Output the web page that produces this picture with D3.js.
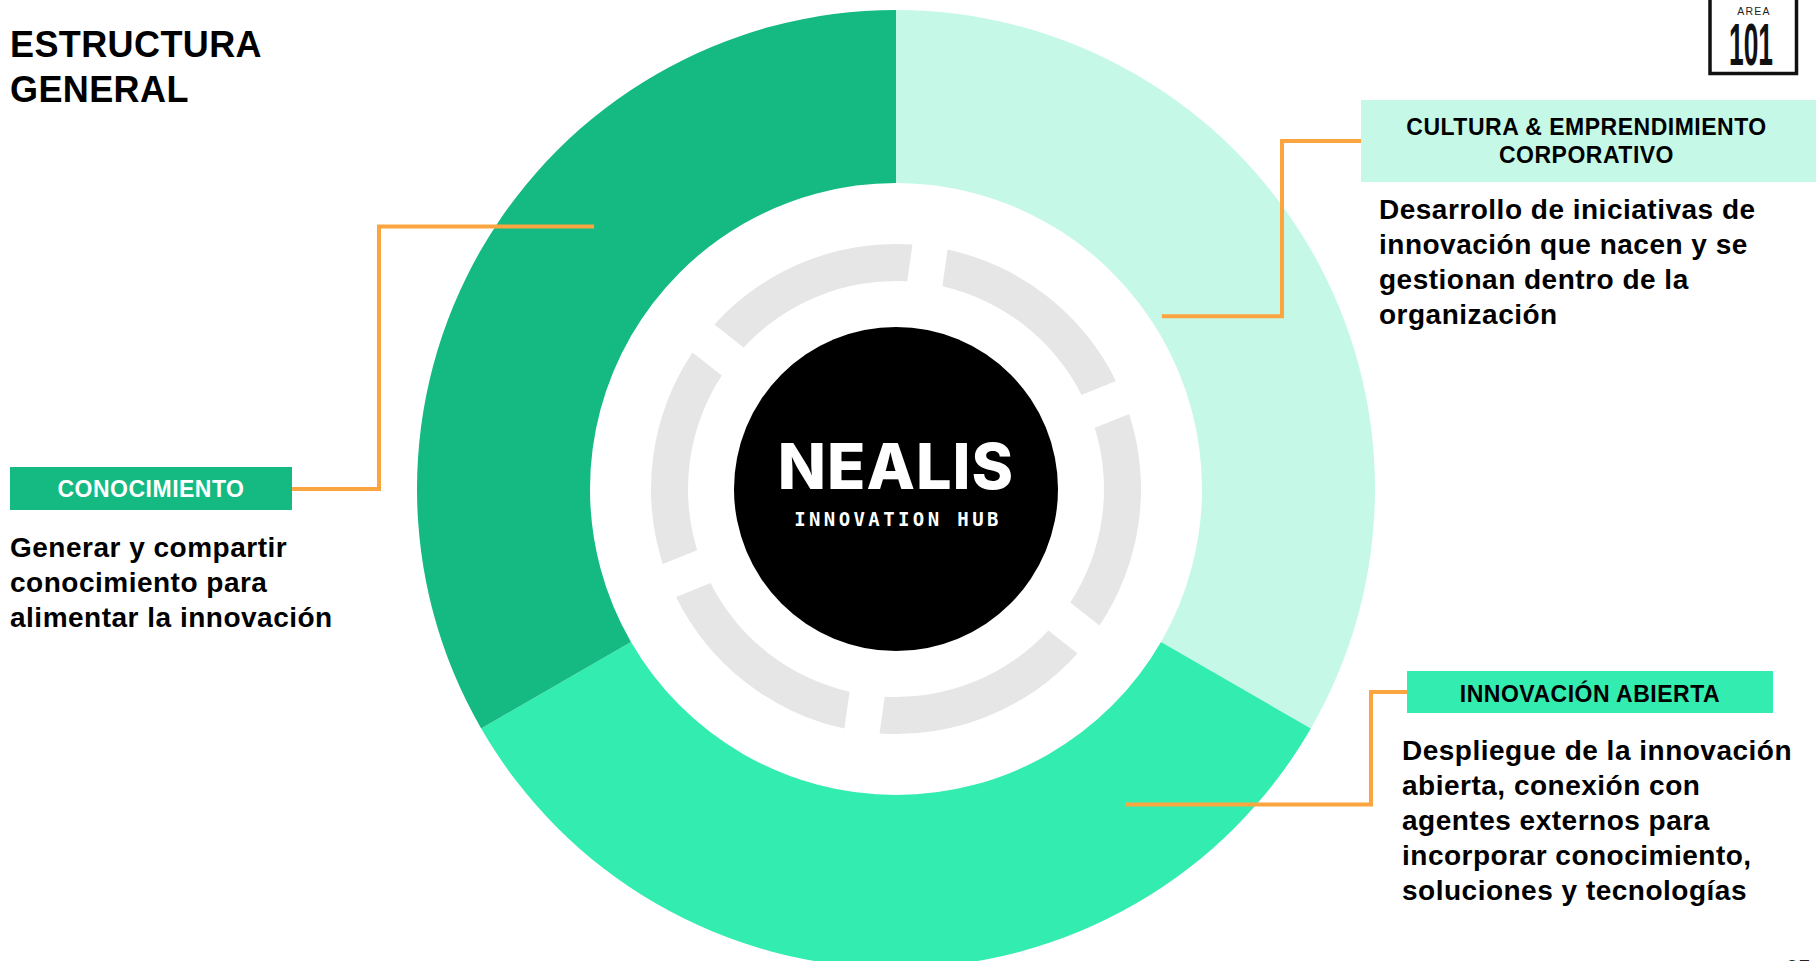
<!DOCTYPE html>
<html>
<head>
<meta charset="utf-8">
<script src="https://cdn.jsdelivr.net/npm/d3@7"></script>
<style>
  html, body { margin: 0; padding: 0; background: #fff; overflow: hidden; }
  text { font-family: "Liberation Sans", Arial, sans-serif; }
</style>
</head>
<body>
<svg width="1816" height="961"></svg>
<script>
// three pillars of the hub, clockwise from 12 o'clock
var areas = ["CULTURA & EMPRENDIMIENTO CORPORATIVO", "INNOVACIÓN ABIERTA", "CONOCIMIENTO"];
var weights = [1, 1, 1];
var areaColors = ["#c5f8e7", "#33ecb0", "#14ba82"];
var labelLines = [
    ["CULTURA & EMPRENDIMIENTO", "CORPORATIVO"],
    ["INNOVACIÓN ABIERTA"],
    ["CONOCIMIENTO"]
];
var descriptions = [
    ["Desarrollo de iniciativas de", "innovación que nacen y se", "gestionan dentro de la", "organización"],
    ["Despliegue de la innovación", "abierta, conexión con", "agentes externos para", "incorporar conocimiento,", "soluciones y tecnologías"],
    ["Generar y compartir", "conocimiento para", "alimentar la innovación"]
];
var ringSegments = [1, 1, 1, 1, 1, 1];

var svg = d3.select("svg"),
    cx = 896, cy = 489,
    outerR = 479, innerR = 306;

var rad = function(deg) { return deg * Math.PI / 180; };

var data = areas.map(function(a, i) { return {name: a, value: weights[i], color: areaColors[i]}; });

var pie = d3.pie().sort(null).value(function(d) { return d.value; });
var arc = d3.arc().innerRadius(innerR).outerRadius(outerR);

var g = svg.append("g").attr("transform", "translate(" + cx + "," + cy + ")");

g.selectAll("path.slice")
    .data(pie(data))
    .enter().append("path")
    .attr("class", "slice")
    .attr("d", arc)
    .attr("fill", function(d) { return d.data.color; });

// dashed grey ring
var ringPie = d3.pie().sort(null).startAngle(rad(8)).endAngle(rad(368)).padAngle(rad(9));
var ringArc = d3.arc().innerRadius(208).outerRadius(245).padRadius(226);
g.selectAll("path.seg")
    .data(ringPie(ringSegments))
    .enter().append("path")
    .attr("class", "seg")
    .attr("d", ringArc)
    .attr("fill", "#e6e6e6");

g.append("circle").attr("r", 162).attr("fill", "#000");

g.append("text")
    .attr("y", 0)
    .attr("text-anchor", "middle")
    .style("font-family", "Inter, 'Open Sans', sans-serif")
    .style("font-weight", 800)
    .style("font-size", "63px")
    .style("letter-spacing", "1px")
    .attr("fill", "#fff")
    .text("NEALIS");

g.append("text")
    .attr("y", 37)
    .attr("x", 2)
    .attr("text-anchor", "middle")
    .style("font-family", "'DejaVu Sans Mono', monospace")
    .style("font-weight", "bold")
    .style("font-size", "19px")
    .style("letter-spacing", "3.4px")
    .attr("fill", "#fff")
    .text("INNOVATION HUB");

// title
svg.append("text")
    .attr("x", 10)
    .style("font-weight", "bold")
    .style("font-size", "36px")
    .style("letter-spacing", "0.4px")
    .selectAll("tspan")
    .data(["ESTRUCTURA", "GENERAL"])
    .enter().append("tspan")
    .attr("x", 10)
    .attr("y", function(d, i) { return 57 + i * 45; })
    .text(function(d) { return d; });

// label layout: box, description, connector
var layout = [
    {box: [1361, 100, 455, 82], textColor: "#000", textY: 135, lineH: 28,
     desc: [1379, 219], attach: [1361, 141], elbowX: 1282, end: [57, 317]},
    {box: [1407, 671, 366, 42], textColor: "#000", textY: 702, lineH: 28,
     desc: [1402, 760], attach: [1407, 692], elbowX: 1371, end: [144, 390]},
    {box: [10, 467, 282, 43], textColor: "#fff", textY: 497, lineH: 28,
     desc: [10, 557], attach: [292, 489], elbowX: 379, end: [311, 400]}
];

var line = d3.line();

data.forEach(function(d, i) {
    var L = layout[i];
    var p = d3.pointRadial(rad(L.end[0]), L.end[1]);
    var endPt = [cx + p[0], cy + p[1]];
    svg.append("path")
        .attr("d", line([L.attach, [L.elbowX, L.attach[1]], [L.elbowX, endPt[1]], endPt]))
        .attr("fill", "none")
        .attr("stroke", "#fba540")
        .attr("stroke-width", 4)
        .attr("stroke-linejoin", "miter");

    svg.append("rect")
        .attr("x", L.box[0]).attr("y", L.box[1])
        .attr("width", L.box[2]).attr("height", L.box[3])
        .attr("fill", d.color);

    svg.append("text")
        .attr("text-anchor", "middle")
        .style("font-weight", "bold")
        .style("font-size", "23px")
        .style("letter-spacing", "0.5px")
        .attr("fill", L.textColor)
        .selectAll("tspan")
        .data(labelLines[i])
        .enter().append("tspan")
        .attr("x", L.box[0] + L.box[2] / 2 + (i === 0 ? -2 : 0))
        .attr("y", function(t, j) { return L.textY + j * L.lineH; })
        .text(function(t) { return t; });

    svg.append("text")
        .style("font-weight", "bold")
        .style("font-size", "28px")
        .style("letter-spacing", "0.5px")
        .attr("fill", "#000")
        .selectAll("tspan")
        .data(descriptions[i])
        .enter().append("tspan")
        .attr("x", L.desc[0])
        .attr("y", function(t, j) { return L.desc[1] + j * 35; })
        .text(function(t) { return t; });
});

// logo top right
var logo = svg.append("g");
logo.append("rect")
    .attr("x", 1710).attr("y", -10)
    .attr("width", 86.5).attr("height", 83.5)
    .attr("fill", "none").attr("stroke", "#111").attr("stroke-width", 3.5);
logo.append("text")
    .attr("x", 1754).attr("y", 15)
    .attr("text-anchor", "middle")
    .style("font-size", "10.5px")
    .style("letter-spacing", "1.2px")
    .attr("fill", "#222")
    .text("AREA");
logo.append("text")
    .attr("x", 1729).attr("y", 65)
    .attr("textLength", 44)
    .attr("lengthAdjust", "spacingAndGlyphs")
    .style("font-weight", "bold")
    .style("font-size", "60px")
    .attr("fill", "#111")
    .text("101");

// page number, cut by the bottom edge
svg.append("text")
    .attr("x", 1786).attr("y", 975)
    .style("font-size", "22px")
    .style("font-weight", "bold")
    .attr("fill", "#222")
    .text("05");
</script>
</body>
</html>
